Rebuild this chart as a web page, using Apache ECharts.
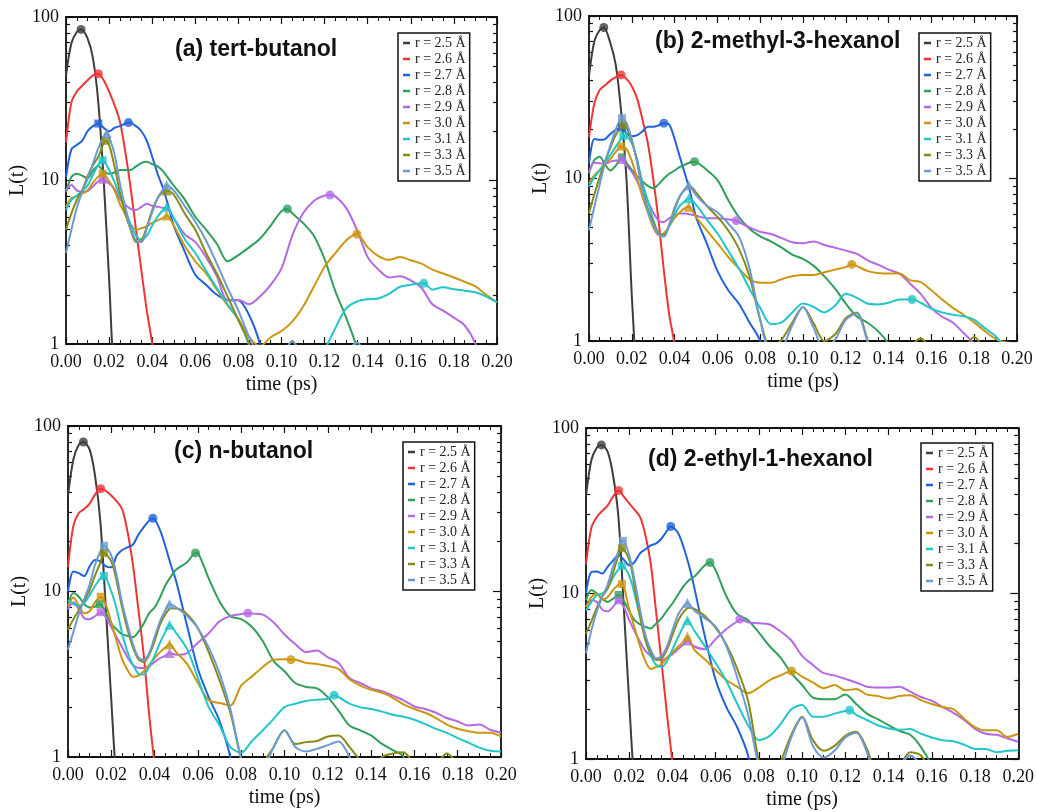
<!DOCTYPE html>
<html><head><meta charset="utf-8">
<script src="https://cdn.jsdelivr.net/npm/echarts@6/dist/echarts.min.js"></script>
<style>html,body{margin:0;padding:0;background:#fff}#c{width:1037px;height:812px}</style>
</head><body><div id="c"></div>
<script>
const times = [0,0.0025,0.005,0.0075,0.01,0.0125,0.015,0.0175,0.02,0.0225,0.025,0.0275,0.03,0.0325,0.035,0.0375,0.04,0.0425,0.045,0.0475,0.05,0.055,0.06,0.065,0.07,0.075,0.08,0.085,0.09,0.095,0.1,0.105,0.11,0.115,0.12,0.125,0.13,0.135,0.14,0.145,0.15,0.155,0.16,0.165,0.17,0.175,0.18,0.185,0.19,0.195,0.2];
const radii = ['r = 2.5 Å','r = 2.6 Å','r = 2.7 Å','r = 2.8 Å','r = 2.9 Å','r = 3.0 Å','r = 3.1 Å','r = 3.3 Å','r = 3.5 Å'];
const titles = ['(a) tert-butanol','(b) 2-methyl-3-hexanol','(c) n-butanol','(d) 2-ethyl-1-hexanol'];
const xTicks = [0,0.02,0.04,0.06,0.08,0.10,0.12,0.14,0.16,0.18,0.20];

// (a) tert-butanol
const a25 = [44,69,81,84,74,56,30,10,2.5,0.6,0.5];
const a26 = [17,30,35,38,41,44,45,41,35,29,23,15,9,5,2.8,1.6,1.0,0.5];
const a27 = [10.5,15.5,16.5,17.5,20,21.5,22.3,21,20,21,21.5,22.3,22.5,21.5,20,17.5,14,11,9,7,5.3,3.7,2.65,2.3,2.0,1.86,1.85,1.5,1.0,0.5];
const a28 = [8.5,10.5,11,10.7,10.3,11.5,12.3,11.3,11,11.2,11.6,11.6,11.6,12.2,12.8,13,12.6,12.2,11.4,10.3,9.3,7.7,6.0,5.0,4.1,3.2,3.5,3.9,4.4,5.3,6.5,6.3,5.5,4.6,3.3,2.1,1.45,0.95,0.5];
const a29 = [8.7,9.4,8.7,8.5,8.6,9.2,9.9,10.1,9.6,8.9,7.7,7.1,6.7,6.6,6.9,7.2,7.0,6.9,6.8,6.6,5.9,4.7,4.2,3.4,2.6,1.85,1.86,1.75,1.95,2.3,2.9,4.6,6.3,7.5,8.1,8.0,6.8,5.0,3.4,2.85,2.55,2.6,2.45,2.2,1.75,1.6,1.45,1.3,1.0,0.6];
const a30 = [6.9,7.8,8,8.3,8.7,9.7,10.6,11,9.9,8.7,7.2,6.2,5.4,5.0,5.1,5.25,5.5,5.7,5.9,6.0,5.3,4.0,3.2,2.7,2.15,1.72,1.42,1.1,0.97,1.1,1.2,1.37,1.69,2.24,2.97,3.6,4.3,4.7,3.9,3.45,3.27,3.4,3.25,3.1,2.85,2.7,2.55,2.4,2.25,2.0,1.8];
const a31 = [6.6,7.6,8.1,8.6,9.3,10.8,12.5,13.2,11.6,9.8,8,6.6,5.4,4.6,4.35,4.6,5.3,6.0,6.6,6.9,5.9,4.4,3.6,2.8,2.2,1.75,1.4,0.97,0.5,0.5,0.5,0.5,0.5,0.5,0.9,1.25,1.65,1.82,1.88,1.9,2.03,2.24,2.3,2.35,2.15,2.22,2.16,2.12,2.07,1.95,1.8];
const a33 = [5.0,6.3,7.6,8.7,10.6,12.4,14,17.2,16.5,12.2,8.5,6.3,5.0,4.2,4.3,5.2,6.6,7.8,8.5,8.7,8.2,6.3,5.0,3.6,2.7,1.95,1.4,1.0,0.5,0.5,0.8,1.04,0.8,0.5];
const a35 = [3.6,5.0,6.8,8.5,10.2,12.7,15.8,18.5,18.5,14.5,9.6,6.9,5.1,4.3,4.2,5.1,6.4,7.8,8.8,9.4,8.7,7.0,5.6,4.3,3.1,2.2,1.6,1.1,0.8,0.5,0.8,1.04,0.8,0.5,0.5,0.5,0.85,1.02,0.8];
// [series index, time, L(t), marker]
const peaksA = [[0,0.007,84,'circle'],[1,0.015,45,'circle'],[2,0.015,22.3,'rect'],[2,0.029,22.6,'circle'],[3,0.1027,6.7,'circle'],[4,0.017,10.1,'rect'],[4,0.1225,8.15,'circle'],[5,0.017,11,'rect'],[5,0.0467,6.1,'triangle'],[5,0.135,4.7,'circle'],[6,0.017,13.3,'rect'],[6,0.0467,6.9,'triangle'],[6,0.166,2.35,'circle'],[7,0.0185,17.5,'rect'],[7,0.0467,8.7,'triangle'],[8,0.0189,19.5,'triangle'],[8,0.0467,9.4,'triangle']];

// (b) 2-methyl-3-hexanol
const b25 = [43,70,82,85,68,50,26,10,1.9,0.5];
const b26 = [18,29,35,37.5,40,42,43.4,41,37,31,23,16.5,10,5.5,2.7,1.45,0.95,0.5];
const b27 = [12.4,17.5,17.3,17.5,18.8,19.9,20.6,19,18.2,18.5,19.5,20.8,20.8,21.2,21.9,21.5,17.5,13.5,10.5,8,5.8,4,2.7,2.06,1.7,1.3,1.0,0.5];
const b28 = [10.8,13,13.6,12.2,11.2,12,13.5,12.5,11.3,10.3,9.6,9.0,8.7,9.2,10,10.7,11.2,11.8,12.2,12.6,12.6,11.3,9.8,7.4,5.8,4.9,4.4,4.1,3.75,3.4,3.2,2.9,2.5,2.1,1.7,1.42,1.3,1.15,0.95,0.5];
const b29 = [11,12.5,12.4,12.3,12.7,12.9,13,12,11,9.6,8.3,7.2,6.2,5.5,5.4,5.7,5.9,6.1,6.1,6.0,5.9,5.7,5.7,5.6,5.4,5.0,4.7,4.55,4.3,4.05,4.0,4.1,3.9,3.75,3.6,3.45,3.15,2.95,2.75,2.6,2.26,1.95,1.6,1.41,1.3,1.12,0.95,0.5];
const b30 = [9.3,10.5,11.3,12.3,13.2,14.6,15.7,15.2,12.8,10,7.7,6.2,5.0,4.5,4.6,5.1,5.7,6.2,6.6,6.7,5.8,4.8,4.0,3.3,2.8,2.4,2.28,2.28,2.4,2.5,2.55,2.55,2.65,2.75,2.85,2.9,2.7,2.62,2.6,2.6,2.37,2.3,2.05,1.8,1.6,1.45,1.3,1.15,1.03,0.98,0.97];
const b31 = [8.9,10.2,11.2,12.5,14,15.7,17.5,18.2,16.5,13,9.4,7.3,5.6,4.6,4.4,5.1,6.0,6.8,7.3,7.5,6.9,5.6,4.6,3.6,2.8,2.1,1.6,1.27,1.3,1.5,1.7,1.62,1.5,1.65,1.95,1.85,1.7,1.68,1.72,1.8,1.8,1.72,1.58,1.5,1.45,1.42,1.35,1.2,1.07,0.9,0.8];
const b33 = [6.1,8.0,10.2,12.8,15.5,18.5,21,20.5,17,12.8,8.6,6.5,5.4,4.6,4.5,5.2,6.6,7.8,8.6,8.9,8.2,6.8,5.8,4.8,3.7,2.5,1.35,0.9,1.02,1.3,1.62,1.28,1.0,1.1,1.38,1.5,1.03,0.6,0.6,0.6,0.9,1.04,0.85,0.6,0.6,0.85,1.06,0.85];
const b35 = [4.8,6.7,9.2,12.5,16,20,23,22,17.5,12.5,8.3,6.3,5.2,4.5,4.4,5.2,6.4,7.8,8.7,9.1,7.9,6.8,6.2,5.3,4.4,2.8,1.35,0.85,0.9,1.25,1.62,1.2,0.88,1.02,1.35,1.48,1.0,0.6];
const peaksB = [[0,0.0069,85,'circle'],[1,0.015,43.4,'circle'],[2,0.0154,20.6,'rect'],[2,0.035,21.9,'circle'],[3,0.0154,13.5,'rect'],[3,0.0493,12.7,'circle'],[4,0.0154,13,'rect'],[4,0.0688,5.5,'circle'],[5,0.015,15.7,'rect'],[5,0.0466,6.7,'triangle'],[5,0.1228,2.96,'circle'],[6,0.016,18.3,'rect'],[6,0.0466,7.55,'triangle'],[6,0.151,1.8,'circle'],[7,0.0158,21.3,'rect'],[8,0.0154,23.5,'rect'],[8,0.0466,9.1,'triangle']];

// (c) n-butanol
const c25 = [38,63,77,80,72,50,26,7.8,2.2,0.7,0.5];
const c26 = [14,25,29.8,31.5,34,38.5,41.8,40.5,38,35,31.5,23,14.5,7.8,4.1,1.8,0.9,0.5];
const c27 = [10,13.2,12.9,12.4,14.2,15.5,15.2,14.2,14,16.5,17.8,18.5,19.2,22,24.5,26.8,27.5,23.5,18.7,14.5,11.5,6.2,3.4,2.3,1.65,1.0,0.5];
const c28 = [8.3,9.8,9.3,8.4,8.0,8.1,8.3,7.4,6.4,5.9,5.5,5.4,5.3,5.7,6.4,7.4,8.0,9.2,10.9,12.3,13.6,15,17,12,8.7,7.1,6.8,6.1,5.0,3.8,3.3,2.8,2.65,2.6,2.3,1.9,1.55,1.45,1.35,1.2,1.1,1.0,0.5];
const c29 = [7.8,8.6,7.8,6.9,6.8,7.1,7.5,7.0,6.1,5.3,4.6,4.0,3.6,3.45,3.45,3.55,3.75,3.95,4.1,4.25,4.15,4.25,4.9,5.6,6.6,7.1,7.3,7.35,7.25,6.5,5.5,4.8,4.3,4.4,4.0,3.7,3.0,2.8,2.6,2.5,2.35,2.2,2.02,1.95,1.85,1.72,1.64,1.55,1.57,1.46,1.4];
const c30 = [8.1,9.2,8.2,7.4,7.6,8.6,9.3,8.3,6.5,5.0,3.9,3.35,3.05,3.1,3.3,3.6,3.95,4.3,4.6,4.8,4.3,3.65,2.8,2.2,2.12,2.05,2.7,3.07,3.5,3.87,3.9,3.87,3.7,3.65,3.55,3.4,2.95,2.7,2.55,2.45,2.28,2.08,1.95,1.85,1.72,1.57,1.48,1.43,1.4,1.4,1.33];
const c31 = [8.9,8.4,8.2,8.5,9.5,10.8,12.0,12.2,10,7.8,5.6,4.3,3.6,3.2,3.15,3.5,4.1,4.9,5.7,6.3,5.6,4.5,3.0,2.0,1.55,1.15,1.06,1.25,1.45,1.7,2.0,2.1,2.18,2.22,2.25,2.3,2.1,2.0,1.95,1.88,1.8,1.75,1.68,1.58,1.48,1.4,1.3,1.22,1.14,1.09,1.08];
const c33 = [5.9,6.8,7.7,8.8,10.2,12.5,15,16.8,15.2,11.5,8.0,5.9,4.6,3.9,3.75,4.15,5.0,6.3,7.3,7.9,7.9,7.3,6.0,4.3,2.9,1.85,0.97,0.6,0.9,1.15,1.45,1.2,1.23,1.25,1.33,1.35,1.15,0.95,0.8,1.0,1.05,1.07,0.9,0.8,0.9,1.05,0.9,0.7];
const c35 = [4.45,5.7,7.3,9.0,11,14.5,17.5,18.5,16.5,12.5,8.5,6.3,4.8,4.0,3.85,4.25,5.3,6.6,7.7,8.4,8.0,7.1,6.0,4.6,3.2,1.95,0.97,0.6,0.8,1.15,1.45,1.15,1.08,1.12,1.18,1.24,1.0,0.7];
const peaksC = [[0,0.0071,80,'circle'],[1,0.0151,41.8,'circle'],[2,0.0392,27.7,'circle'],[3,0.0146,8.4,'rect'],[3,0.0589,17.1,'circle'],[4,0.0151,7.5,'rect'],[4,0.0469,4.25,'triangle'],[4,0.0831,7.4,'circle'],[5,0.0151,9.3,'rect'],[5,0.0469,4.8,'triangle'],[5,0.103,3.87,'circle'],[6,0.0166,12.4,'rect'],[6,0.0469,6.3,'triangle'],[6,0.1229,2.36,'circle'],[7,0.0166,17.1,'rect'],[8,0.0166,18.9,'rect'],[8,0.0469,8.4,'triangle']];

// (d) 2-ethyl-1-hexanol
const d25 = [39,64,76,79,72,52,29,8.2,2.2,0.7,0.5];
const d26 = [15,25,29,31.5,34,38.5,41.9,38.5,35,32,29,22.5,15,7.6,3.8,1.85,0.95,0.5];
const d27 = [10,13.5,13.6,13.2,14.5,15.8,17,16,14.8,15.5,17.5,18.5,19.5,20.1,21.5,24,25.2,23.3,19.3,15,11,5.5,3.0,2.05,1.55,1.05,0.5];
const d28 = [9.1,10.5,10,9.3,8.9,9.3,9.8,9.0,7.8,6.9,6.5,6.3,6.15,6.6,7.1,7.9,8.7,9.8,11,12,12.6,14.8,13.8,9.6,7.5,6.9,5.8,4.8,4.1,3.3,2.8,2.35,2.3,2.3,2.45,2.15,1.88,1.74,1.6,1.48,1.4,1.18,0.9,0.5];
const d29 = [8.3,9.1,8.9,8.0,7.8,8.3,9.0,8.3,6.9,5.9,5.1,4.5,4.2,4.05,3.96,4.1,4.3,4.6,4.9,5.2,4.8,4.6,5.3,6.1,6.8,6.7,6.6,6.5,5.9,5.2,4.2,3.7,3.3,3.2,3.05,2.9,2.73,2.7,2.7,2.73,2.55,2.37,2.25,2.06,1.9,1.72,1.52,1.42,1.4,1.33,1.27];
const d30 = [8.3,9.5,10,9.2,9.5,10.5,11.3,10.3,8.0,6.2,4.8,3.9,3.5,3.6,3.75,4.1,4.4,4.75,5.1,5.5,4.6,4.0,3.45,3.0,2.73,2.5,2.7,3.0,3.2,3.4,3.15,2.9,2.68,2.8,2.6,2.65,2.45,2.4,2.32,2.4,2.43,2.27,2.15,2.06,2.0,1.75,1.56,1.49,1.49,1.36,1.42];
const d31 = [7.9,8.9,9.8,10,10.8,12.5,14,14.5,12.8,9.9,7.2,5.3,4.2,3.7,3.6,3.9,4.6,5.4,6.3,6.9,6.0,4.8,3.8,2.95,2.15,1.6,1.3,1.38,1.62,2.0,2.12,1.8,1.8,1.88,1.95,1.85,1.72,1.6,1.53,1.5,1.52,1.42,1.35,1.3,1.28,1.22,1.15,1.15,1.1,1.12,1.13];
const d33 = [5.7,6.8,8.2,9.6,10.7,13.3,17,18.5,16,11,7.3,5.2,4.35,3.96,4.05,4.6,5.6,6.8,7.7,8.2,8.1,7.3,6.2,4.9,3.5,2.25,0.97,0.6,0.95,1.4,1.8,1.3,1.12,1.2,1.38,1.46,1.15,0.8,0.8,0.9,1.1,1.05,0.8,0.6];
const d35 = [4.35,6.0,7.8,9.5,11.3,14.5,18,20.7,17,12,8.0,5.6,4.55,4.05,4.2,4.8,6.0,7.4,8.3,8.8,7.9,7.1,6.3,4.8,3.1,1.85,0.9,0.6,0.85,1.35,1.78,1.2,1.02,1.12,1.35,1.44,1.1,0.7,0.7,0.9,1.05,0.9,0.6];
const peaksD = [[0,0.0071,79,'circle'],[1,0.0151,41.9,'circle'],[2,0.0392,25.4,'circle'],[3,0.0151,9.8,'rect'],[3,0.0574,15.4,'circle'],[4,0.0151,9.1,'rect'],[4,0.0469,5.2,'triangle'],[4,0.0712,7.0,'circle'],[5,0.0166,11.4,'rect'],[5,0.0469,5.5,'triangle'],[5,0.0951,3.4,'circle'],[6,0.0166,14.7,'rect'],[6,0.0469,6.9,'triangle'],[6,0.122,1.97,'circle'],[7,0.0166,18.8,'rect'],[8,0.0171,20.8,'rect'],[8,0.0469,8.8,'triangle']];

const panelRows = [[a25,a26,a27,a28,a29,a30,a31,a33,a35],[b25,b26,b27,b28,b29,b30,b31,b33,b35],[c25,c26,c27,c28,c29,c30,c31,c33,c35],[d25,d26,d27,d28,d29,d30,d31,d33,d35]];
const panelPeaks = [peaksA,peaksB,peaksC,peaksD];

// ---- styling / layout ----
const colors = ['#3d3d3d','#f03434','#1f62dc','#2f9f5c','#b46ae2','#cc9612','#22c6c8','#8a8a18','#6c9bd2'];
const layout = [
  {grid:{left:66,top:17,width:431,height:327}, title:[175,38], legend:[398,33]},
  {grid:{left:589,top:16,width:428,height:325}, title:[655,30], legend:[919,33]},
  {grid:{left:68,top:426,width:433,height:331}, title:[174,440], legend:[403,442]},
  {grid:{left:586,top:428,width:433,height:331}, title:[648,448], legend:[921,443]}
];
const serif = 'Liberation Serif, Times New Roman, serif';
const ink = '#111';
const minorLogTicks = [2,3,4,5,6,7,8,9,20,30,40,50,60,70,80,90];

const xAxes = [], yAxes = [], grids = [], titleOpts = [], legends = [], series = [];
layout.forEach((L, gi) => {
  grids.push(Object.assign({containLabel:false}, L.grid));
  [false, true].forEach(top => xAxes.push({
    type:'value', gridIndex:gi, min:0, max:0.2, interval:0.02, position: top ? 'top' : 'bottom',
    axisLine:{show:true, onZero:false, lineStyle:{color:ink, width:1.8}},
    axisTick:{show:true, inside:true, length:7, lineStyle:{color:ink, width:1.2}},
    minorTick:{show:true, splitNumber:4, length:4, lineStyle:{color:ink, width:1}},
    axisLabel:{show:!top, margin:9, fontFamily:serif, fontSize:18, color:ink, formatter:v => v.toFixed(2)},
    splitLine:{show:false}, minorSplitLine:{show:false},
    name: top ? '' : 'time (ps)', nameLocation:'middle', nameGap:31,
    nameTextStyle:{fontFamily:serif, fontSize:20, color:ink}
  }));
  [['left',false],['left',true],['right',false],['right',true]].forEach(([pos, minor]) => {
    const main = pos === 'left' && !minor;
    const tick = {show:true, inside:true, length: minor ? 4 : 8, lineStyle:{color:ink, width:1.2}};
    if (minor) tick.customValues = minorLogTicks;
    yAxes.push({
      type:'log', logBase:10, gridIndex:gi, min:1, max:100, position:pos,
      axisLine:{show:!minor, onZero:false, lineStyle:{color:ink, width:1.8}},
      axisTick: tick,
      axisLabel:{show:main, margin:7, fontFamily:serif, fontSize:18, color:ink},
      splitLine:{show:false},
      name: main ? 'L(t)' : '', nameLocation:'middle', nameGap:33,
      nameTextStyle:{fontFamily:serif, fontSize:20, color:ink}
    });
  });
  titleOpts.push({text:titles[gi], left:L.title[0], top:L.title[1], padding:0,
    textStyle:{fontFamily:'Liberation Sans, Arial, sans-serif', fontWeight:'bold', fontSize:23, color:ink}});
  legends.push({data:radii, left:L.legend[0], top:L.legend[1], orient:'vertical', icon:'rect',
    itemWidth:7, itemHeight:2.5, itemGap:2, padding:[3,4,3,5], selectedMode:false,
    borderColor:ink, borderWidth:1.5, backgroundColor:'#fff',
    textStyle:{fontFamily:serif, fontSize:14, lineHeight:14, color:'#222'}});

  const rows = panelRows[gi], pk = panelPeaks[gi];
  rows.forEach((vals, k) => {
    const mine = pk.filter(q => q[0] === k);
    const pts = vals.map((v, j) => [times[j], v])
      .filter(p => !mine.some(q => Math.abs(q[1] - p[0]) < 0.001));
    mine.forEach(q => pts.push([q[1], q[2]]));
    pts.sort((p, q) => p[0] - q[0]);
    series.push({type:'line', name:radii[k], xAxisIndex:2*gi, yAxisIndex:4*gi, data:pts,
      smooth:0.3, showSymbol:false, symbol:'none', color:colors[k],
      lineStyle:{width:2, color:colors[k]}, itemStyle:{color:colors[k]}, clip:true, silent:true});
  });
  series.push({type:'scatter', name:'peaks', xAxisIndex:2*gi, yAxisIndex:4*gi, silent:true, z:5,
    data: pk.map(q => ({value:[q[1], q[2]], symbol:q[3],
      symbolSize: q[3] === 'circle' ? 9 : (q[3] === 'rect' ? 8 : 10),
      itemStyle:{color:colors[q[0]]}}))});
});

const chart = echarts.init(document.getElementById('c'));
chart.setOption({
  animation:false, backgroundColor:'#fff',
  title:titleOpts, legend:legends, grid:grids, xAxis:xAxes, yAxis:yAxes, series:series
});
</script>
</body></html>
